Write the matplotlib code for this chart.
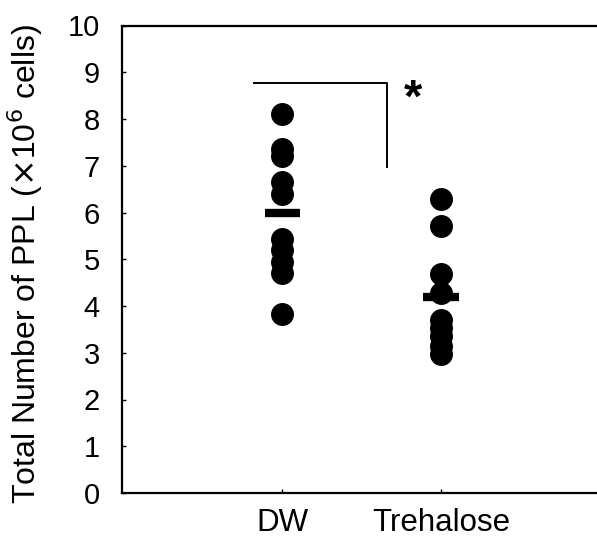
import numpy as np
import matplotlib
matplotlib.use("Agg")
import matplotlib.pyplot as plt

plt.rcParams['font.family'] = ['Liberation Sans', 'DejaVu Sans']

groups = ["DW", "Trehalose"]
dw = [8.10, 7.36, 7.21, 6.65, 6.39, 5.43, 5.20, 4.95, 4.71, 3.83]
trehalose = [6.29, 5.71, 4.68, 4.27, 3.70, 3.52, 3.35, 3.15, 2.97]
yticks = list(range(0, 11))

fig = plt.figure(figsize=(5.97, 5.38), dpi=100)
ax = fig.add_axes([122 / 597, 45 / 538, 1 - 122 / 597, 467.5 / 538])

for i, vals in enumerate([dw, trehalose], start=1):
    ax.plot([i] * len(vals), vals, 'o', color='black', markersize=15.5, clip_on=False)
    m = np.mean(vals)
    ax.plot([i - 0.113, i + 0.113], [m, m], color='black', linewidth=6, solid_capstyle='butt')

# significance bracket
ax.plot([0.82, 1.66, 1.66], [8.77, 8.77, 6.97], color='black', linewidth=1.4)
ax.text(1.82, 8.42, "*", fontsize=34, fontweight='bold', ha='center', va='center')

ax.set_xlim(-0.01, 2.98)
ax.set_ylim(0, 10)
ax.set_xticks([1, 2])
ax.set_xticklabels(groups, fontsize=22.5)
ax.set_yticks(yticks)
ax.set_yticklabels([str(t) for t in yticks], fontsize=21)
ax.tick_params(axis='y', direction='in', length=3, width=1, pad=16)
ax.tick_params(axis='x', direction='in', length=3, width=1, pad=11)
ax.spines['right'].set_visible(False)
for s in ['left', 'bottom', 'top']:
    ax.spines[s].set_linewidth(1.6)

ax.set_ylabel("Total Number of PPL ($\\times$10$^6$ cells)", fontsize=23)
ax.yaxis.set_label_coords(-0.163, 0.49)

fig.savefig("out.png", dpi=100)
